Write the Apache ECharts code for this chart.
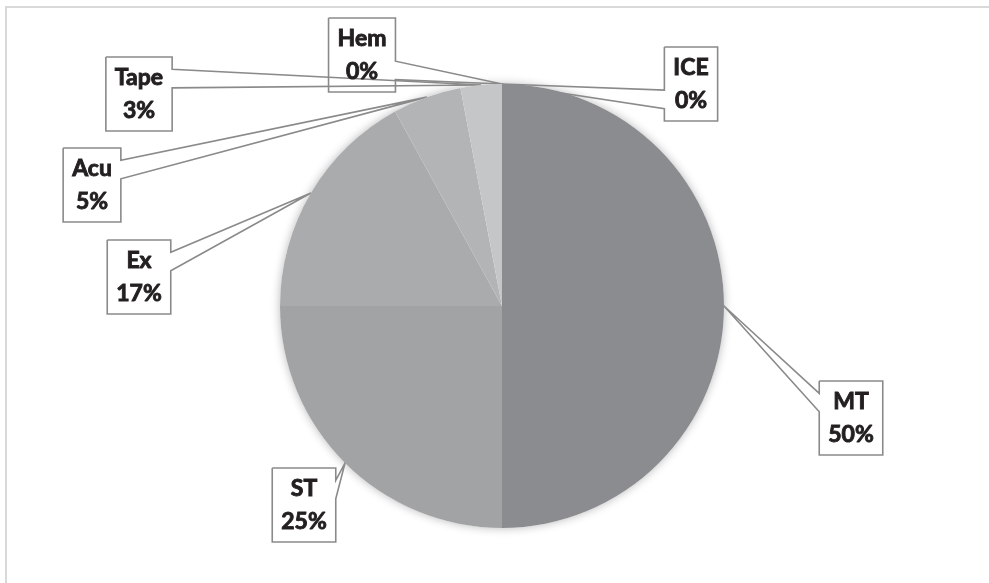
<!DOCTYPE html>
<html>
<head>
<meta charset="utf-8">
<title>Treatment share</title>
<script src="https://cdn.jsdelivr.net/npm/echarts@6/dist/echarts.min.js"></script>
<style>
  html, body { margin: 0; padding: 0; background: #ffffff; }
  #chart { width: 989px; height: 583px; }
</style>
</head>
<body>
<div id="chart"></div>
<script>
// Share of each treatment, in percent, clockwise from 12 o'clock
const categories = ['MT', 'ST', 'Ex', 'Acu', 'Tape', 'Hem', 'ICE'];
const shares = [50, 25, 17, 5, 3, 0, 0];

// Slice fills, one per category
const sliceColors = ['#8b8c8f', '#a2a3a5', '#aaabad', '#b3b4b6', '#c5c6c8', '#cfd0d2', '#d9dadc'];

// Where each callout box sits (box centre, in px)
const calloutCenters = [
  [851, 418], [304, 505], [139, 277], [92, 185], [139, 94], [362, 55], [691, 84]
];

const chart = echarts.init(document.getElementById('chart'), null, { renderer: 'canvas' });

// Outline of a rectangular callout whose wedge points at the slice.
// The wedge base sits on the edge facing the tip, at 2/12–5/12 or 7/12–10/12 of it.
function calloutOutline(cx, cy, w, h, tip) {
  const L = cx - w / 2, R = cx + w / 2, T = cy - h / 2, B = cy + h / 2;
  const dx = tip[0] - cx, dy = tip[1] - cy;
  const TL = [L, T], TR = [R, T], BR = [R, B], BL = [L, B];
  if (Math.abs(dx) * h > Math.abs(dy) * w) {
    const y1 = dy < 0 ? T + h * 2 / 12 : T + h * 7 / 12;
    const y2 = dy < 0 ? T + h * 5 / 12 : T + h * 10 / 12;
    if (dx > 0) return [TL, TR, [R, y1], tip, [R, y2], BR, BL, TL];
    return [TL, TR, BR, BL, [L, y2], tip, [L, y1], TL];
  }
  const x1 = dx < 0 ? L + w * 2 / 12 : L + w * 7 / 12;
  const x2 = dx < 0 ? L + w * 5 / 12 : L + w * 10 / 12;
  if (dy < 0) return [TL, [x1, T], tip, [x2, T], TR, BR, BL, TL];
  return [TL, TR, BR, [x2, B], tip, [x1, B], BL, TL];
}

const pieData = categories.map((name, i) => ({
  name: name,
  value: shares[i],
  itemStyle: { color: sliceColors[i] }
}));

chart.setOption({
  animation: false,
  backgroundColor: '#ffffff',
  graphic: [{
    type: 'rect',
    silent: true,
    shape: { x: 6, y: 7, width: 1000, height: 600 },
    style: { fill: 'none', stroke: '#d9d9d9', lineWidth: 2 }
  }],
  series: [
    {
      // soft shadow under the whole pie
      type: 'pie',
      silent: true,
      center: [502, 306],
      radius: 222,
      data: [{ value: 1, itemStyle: { color: '#ffffff' } }],
      label: { show: false },
      labelLine: { show: false },
      itemStyle: { shadowBlur: 10, shadowColor: 'rgba(0,0,0,0.28)' },
      z: 1
    },
    {
      type: 'pie',
      center: [502, 306],
      radius: 222,
      startAngle: 90,
      clockwise: true,
      avoidLabelOverlap: false,
      data: pieData,
      itemStyle: { borderWidth: 0 },
      emphasis: { disabled: true },
      label: {
        show: true,
        position: 'outside',
        formatter: p => p.name + '\n' + Math.round(p.percent) + '%',
        fontFamily: 'Lato',
        fontWeight: 'bold',
        fontSize: 23,
        lineHeight: 33,
        color: '#231f20',
        textBorderColor: '#231f20',
        textBorderWidth: 0.9,
        padding: [4, 9],
        backgroundColor: 'transparent'
      },
      labelLine: {
        show: true,
        smooth: false,
        lineStyle: { color: '#8a8a8a', width: 1.6, join: 'miter' }
      },
      labelLayout: function (params) {
        const c = calloutCenters[params.dataIndex];
        const w = params.labelRect.width;
        const h = params.labelRect.height;
        const tip = params.labelLinePoints[0];
        return {
          x: c[0],
          y: c[1],
          align: 'center',
          verticalAlign: 'middle',
          labelLinePoints: calloutOutline(c[0], c[1], w, h, tip)
        };
      },
      z: 2
    }
  ]
});
</script>
</body>
</html>
